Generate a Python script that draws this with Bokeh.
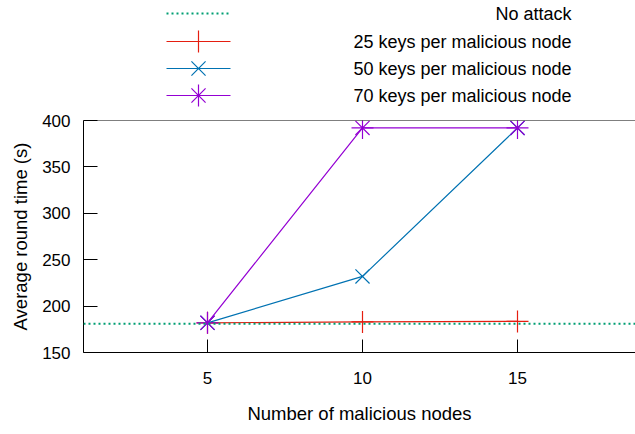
from bokeh.plotting import figure
from bokeh.models import Range1d, FixedTicker, Span
from bokeh.layouts import column
from bokeh.core.properties import value
from bokeh.embed import file_html
from bokeh.resources import INLINE

# ---- data ----
malicious_nodes = [5, 10, 15]
no_attack = 181
keys25 = [182, 183, 183.5]
keys50 = [182, 232, 392]
keys70 = [182, 392, 392]
series_labels = ["No attack", "25 keys per malicious node",
                 "50 keys per malicious node", "70 keys per malicious node"]
x_ticks = [5, 10, 15]
y_ticks = [150, 200, 250, 300, 350, 400]

GREEN = "#009e73"
RED = "#e51e10"
BLUE = "#0072b2"
PURPLE = "#9400d3"
FONT = "Liberation Sans"

LEG_H = 108

# ---- legend figure (top strip); its frame is aligned with the main plot's frame (x 83..635) ----
lf = figure(width=635, height=LEG_H, x_range=Range1d(83, 635), y_range=Range1d(LEG_H, 0),
            output_backend="svg", toolbar_location=None, min_border=0)
lf.axis.visible = False
lf.grid.visible = False
lf.outline_line_color = None
rows = [13, 41, 68, 95]
sx0, sx1, sxm = 166, 230, 198
lf.line([sx0, sx1], [rows[0]] * 2, line_color=GREEN, line_width=2, line_dash="2 3")
lf.line([sx0, sx1], [rows[1]] * 2, line_color=RED, line_width=1.2)
lf.scatter([sxm], [rows[1]], marker="cross", size=22, line_color=RED, line_width=1.2)
lf.line([sx0, sx1], [rows[2]] * 2, line_color=BLUE, line_width=1.2)
lf.scatter([sxm], [rows[2]], marker="x", size=20, line_color=BLUE, line_width=1.2)
lf.line([sx0, sx1], [rows[3]] * 2, line_color=PURPLE, line_width=1.2)
lf.scatter([sxm], [rows[3]], marker="cross", size=22, line_color=PURPLE, line_width=1.2)
lf.scatter([sxm], [rows[3]], marker="x", size=20, line_color=PURPLE, line_width=1.2)
lf.text(x=[571] * 4, y=rows, text=series_labels, text_align="right",
        text_baseline="middle", text_font=value(FONT), text_font_size="18px",
        text_color="black")

# ---- main figure ----
top_pad = 120 - LEG_H
p = figure(width=635, height=434 - LEG_H, x_range=Range1d(1, 1 + 552 / 31),
           y_range=Range1d(150, 400), output_backend="svg", toolbar_location=None,
           min_border_left=83, min_border_right=0, min_border_top=top_pad,
           min_border_bottom=82)
p.outline_line_color = None
p.grid.visible = False
p.background_fill_color = "white"

for ax in (p.xaxis[0], p.yaxis[0]):
    ax.major_tick_in = 13
    ax.major_tick_out = 0
    ax.minor_tick_line_color = None
    ax.axis_line_color = "black"
    ax.major_tick_line_color = "black"
    ax.major_label_text_font = FONT
    ax.major_label_text_font_size = "17px"
    ax.major_label_text_color = "black"
    ax.axis_label_text_font = FONT
    ax.axis_label_text_font_size = "18.5px"
    ax.axis_label_text_font_style = "normal"
    ax.axis_label_text_color = "black"

p.xaxis.ticker = FixedTicker(ticks=x_ticks)
p.yaxis.ticker = FixedTicker(ticks=y_ticks)
p.yaxis.major_tick_in = 14
p.xaxis.major_label_standoff = 19
p.yaxis.major_label_standoff = 13
p.xaxis.axis_label = "Number of malicious nodes"
p.yaxis.axis_label = "Average round time (s)"
p.xaxis.axis_label_standoff = 16
p.yaxis.axis_label_standoff = 8

p.add_layout(Span(location=400, dimension="width", line_color="black", line_width=1))
p.add_layout(Span(location=no_attack, dimension="width", line_color=GREEN,
                  line_width=2, line_dash="2 3"))

p.line(malicious_nodes, keys25, line_color=RED, line_width=1.2)
p.scatter(malicious_nodes, keys25, marker="cross", size=22, line_color=RED, line_width=1.2)
p.line(malicious_nodes, keys50, line_color=BLUE, line_width=1.2)
p.scatter(malicious_nodes, keys50, marker="x", size=20, line_color=BLUE, line_width=1.2)
p.line(malicious_nodes, keys70, line_color=PURPLE, line_width=1.2)
p.scatter(malicious_nodes, keys70, marker="cross", size=22, line_color=PURPLE, line_width=1.2)
p.scatter(malicious_nodes, keys70, marker="x", size=20, line_color=PURPLE, line_width=1.2)

layout = column(lf, p, spacing=0)
open("out.html", "w").write(file_html(layout, INLINE))
